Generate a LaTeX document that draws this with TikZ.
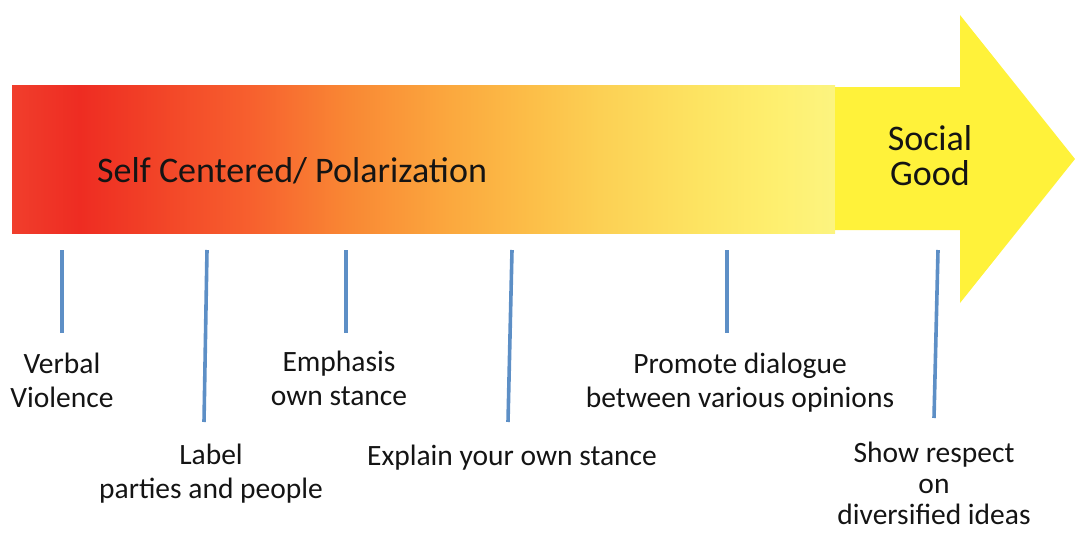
\documentclass[tikz,border=0pt]{standalone}
\usepackage{fontspec}
\setmainfont{Carlito}
\usetikzlibrary{calc}

\definecolor{barred0}{RGB}{240,62,44}
\definecolor{barred1}{RGB}{238,44,34}
\definecolor{barorange0}{RGB}{247,96,46}
\definecolor{barorange1}{RGB}{249,136,52}
\definecolor{barorange2}{RGB}{251,168,62}
\definecolor{baramber}{RGB}{252,190,72}
\definecolor{baryellow0}{RGB}{252,208,84}
\definecolor{baryellow1}{RGB}{253,228,98}
\definecolor{baryellow2}{RGB}{254,240,112}
\definecolor{baryellow3}{RGB}{252,244,128}
\definecolor{goodyellow}{RGB}{255,242,58}
\definecolor{tickblue}{RGB}{93,143,198}
\definecolor{inkgray}{RGB}{20,20,20}

% red -> orange -> pale yellow body of the arrow
\pgfdeclarehorizontalshading{heatbar}{100bp}{%
  color(0bp)=(barred0);
  color(25bp)=(barred0);
  color(29.1bp)=(barred1);
  color(39.5bp)=(barorange0);
  color(45.5bp)=(barorange1);
  color(51.6bp)=(barorange2);
  color(56.5bp)=(baramber);
  color(60.7bp)=(baryellow0);
  color(66.8bp)=(baryellow1);
  color(71.7bp)=(baryellow2);
  color(75bp)=(baryellow3);
  color(100bp)=(baryellow3)}

\begin{document}
\begin{tikzpicture}[x=1pt,y=-1pt,
  heading/.style={font=\fontsize{36}{35}\selectfont, text=inkgray, inner sep=0pt},
  stage/.style={font=\fontsize{29.5}{34}\selectfont, text=inkgray, align=center, inner sep=0pt, anchor=base},
  tick/.style={draw=tickblue, line width=3.6pt}]
\useasboundingbox (0,0) rectangle (1075,535);

% gradient body of the scale
\shade[shading=heatbar] (12,85) rectangle (835,233);
% yellow end of the arrow with its head
\fill[goodyellow] (835,87) -- (960,87) -- (960,15) -- (1075,159)
  -- (960,303) -- (960,230) -- (835,230) -- cycle;

\node[heading, anchor=base west] (self) at (97,182) {Self Centered/ Polarization};
\node[heading, align=center, anchor=base] (good) at (930,185) {Social\\Good};

% stages along the scale (anchored at the baseline of the last line)
\node[stage] (verbal)  at (62,407)  {Verbal\\Violence};
\node[stage] (label)   at (211,498) {Label\\parties and people};
\node[stage] (emph)    at (339,405) {Emphasis\\own stance};
\node[stage] (explain) at (512,465) {Explain your own stance};
\node[stage] (promote) at (740,407) {Promote dialogue\\between various opinions};
\node[stage, font=\fontsize{29.5}{31}\selectfont] (respect) at (934,524) {Show respect\\on\\diversified ideas};

% tick marks hanging below the scale
\coordinate (t1) at (62,250);
\coordinate (t2) at (207,250);
\coordinate (t3) at (346,250);
\coordinate (t4) at (512,250);
\coordinate (t5) at (727,250);
\coordinate (t6) at (938,250);
\draw[tick] (t1) -- (62,333);
\draw[tick] (t2) -- (204,422);
\draw[tick] (t3) -- (346,333);
\draw[tick] (t4) -- (508,422);
\draw[tick] (t5) -- (727,333);
\draw[tick] (t6) -- (934,418);
\end{tikzpicture}
\end{document}
